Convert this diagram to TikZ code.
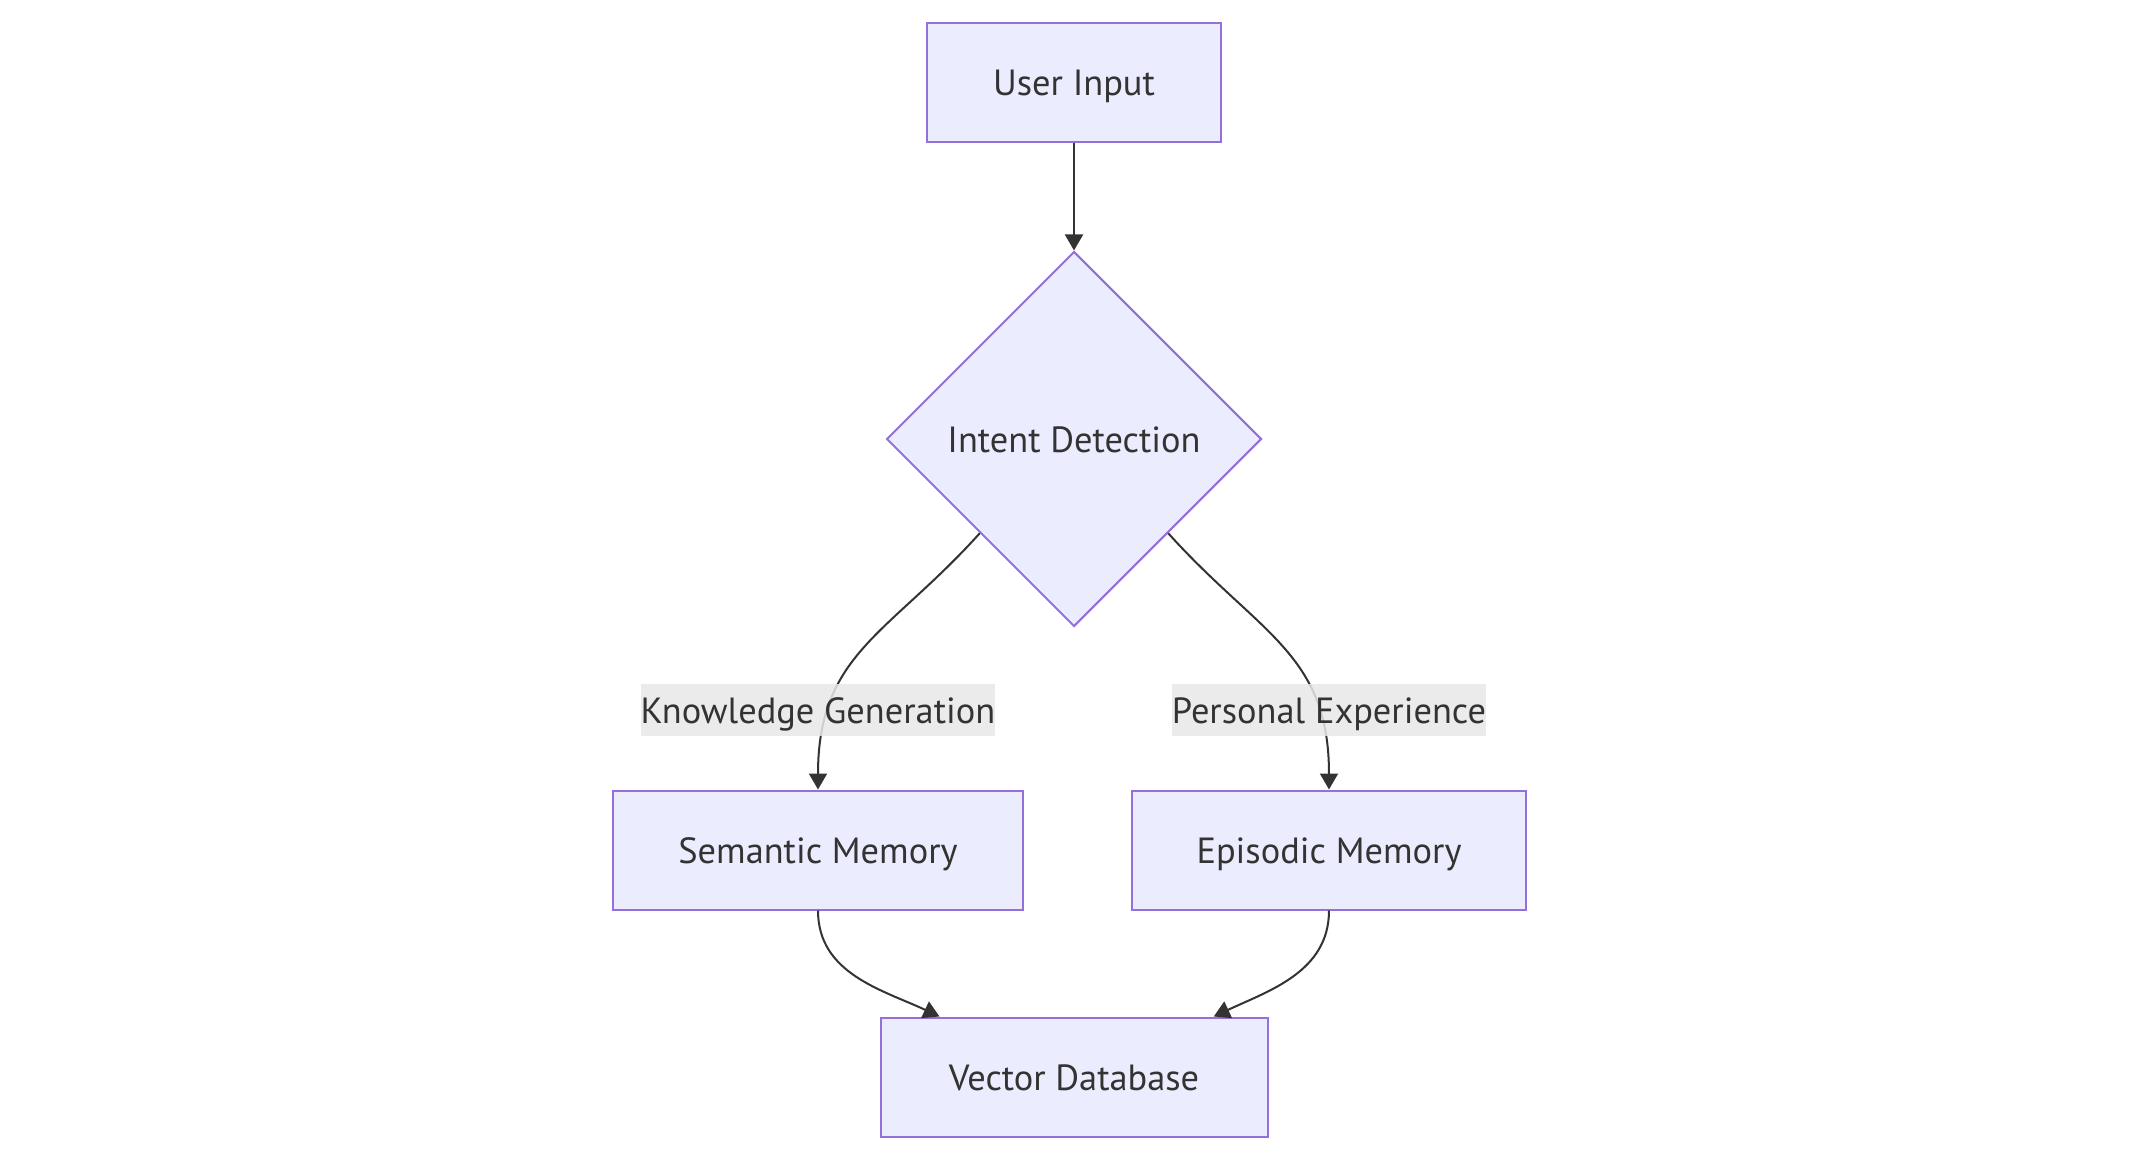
\documentclass[tikz,border=0pt]{standalone}
\usepackage{fontspec}
\setmainfont{PT Sans}
\usetikzlibrary{%
	shapes.geometric,%
	arrows.meta
}
\definecolor{boxfill}{HTML}{ECECFF}
\definecolor{boxline}{HTML}{9370DB}
\definecolor{edgeline}{HTML}{333333}
\definecolor{labelfill}{HTML}{E8E8E8}
\tikzset{
	flowtext/.style={text=edgeline, text height=13pt, text depth=0pt, font=\fontsize{18.2}{22}\selectfont},
	flowbox/.style={flowtext, draw=boxline, fill=boxfill, line width=1pt, minimum height=59.5pt, inner sep=0pt},
	decision/.style={flowtext, diamond, aspect=1, draw=boxline, fill=boxfill, line width=1pt, minimum width=187.5pt, minimum height=187.5pt, inner sep=0pt},
	edgelabel/.style={flowtext, fill=labelfill, fill opacity=0.85, text opacity=1, inner xsep=0pt, minimum height=26pt},
	flowedge/.style={draw=edgeline, line width=1pt, -{Triangle[length=8pt,width=9pt]}}
}

\begin{document}
\begin{tikzpicture}[x=0.5pt,y=-0.5pt]
			% Fix the page size
			\fill[white] (0,0) rectangle (2144,1162);
			\useasboundingbox (0,0) rectangle (2144,1162);
			
			% Draw the boxes
			\node[flowbox, minimum width=147pt] (input) at (1074,82) {User Input};
			\node[decision] (intent) at (1074,439) {Intent Detection};
			\node[flowbox, minimum width=205pt] (semantic) at (818,850) {Semantic Memory};
			\node[flowbox, minimum width=197pt] (episodic) at (1329,850) {Episodic Memory};
			\node[flowbox, minimum width=193.5pt] (vector) at (1074,1077) {Vector Database};
			
			% Draw the edges
			\draw[flowedge] (input) -- (intent);
			\draw[flowedge] (intent.south west) to[out=-132, in=90, looseness=1.15] (semantic.north);
			\draw[flowedge] (intent.south east) to[out=-48, in=90, looseness=1.15] (episodic.north);
			\draw[flowedge] (semantic.south) to[out=-90, in=155] ([xshift=30pt]vector.north west);
			\draw[flowedge] (episodic.south) to[out=-90, in=25] ([xshift=-27.4pt]vector.north east);
			
			% Draw the labels over the edges
			\node[edgelabel] (knowledge) at (818,710) {Knowledge Generation};
			\node[edgelabel] (personal) at (1329,710) {Personal Experience};
		\end{tikzpicture}
\end{document}
